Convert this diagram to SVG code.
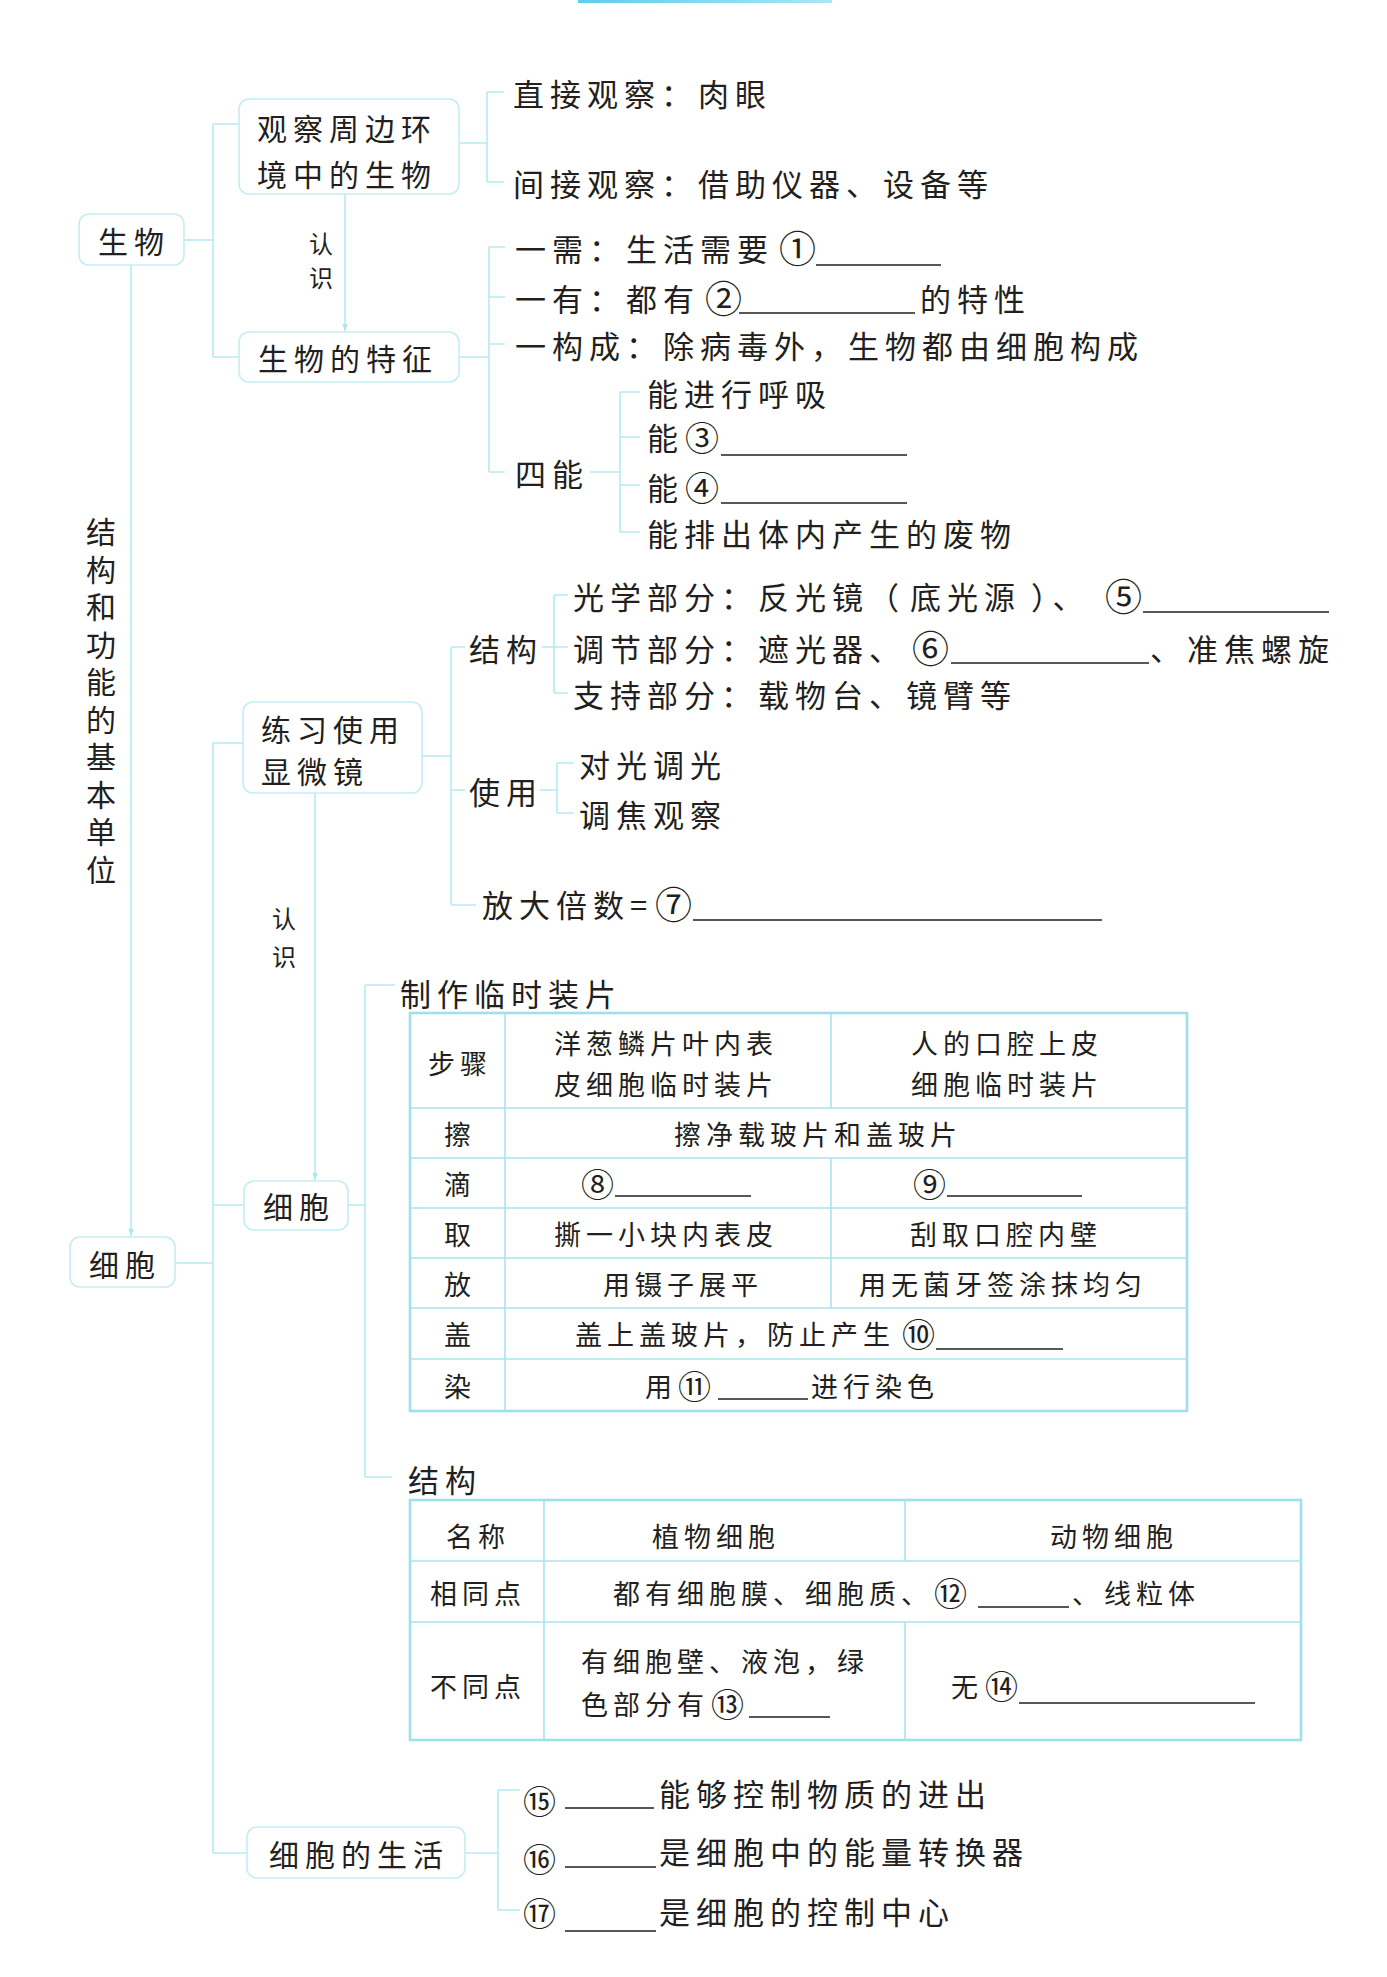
<svg xmlns="http://www.w3.org/2000/svg" width="1387" height="1977" viewBox="0 0 1387 1977">
<defs>
<linearGradient id="bar" x1="0" y1="0" x2="1" y2="0">
<stop offset="0" stop-color="#5fcdec"/><stop offset="1" stop-color="#a6e8f2"/>
</linearGradient>
<marker id="arr" viewBox="0 0 10 10" refX="10" refY="5" markerWidth="7" markerHeight="7" orient="auto" markerUnits="userSpaceOnUse">
<path d="M0,1 L10,5 L0,9 Z" fill="#a9e6ef"/>
</marker>
<style>
text{font-family:"Noto Sans CJK SC","Noto Sans CJK JP",sans-serif;fill:#231f20;dominant-baseline:central}
.m{font-size:31px;letter-spacing:6px}
.b{font-size:30px;letter-spacing:6px}
.s{font-size:27px;letter-spacing:5px}
.r{font-size:24px}
.c{text-anchor:middle}
.v{font-size:30px;letter-spacing:7.5px;writing-mode:vertical-rl}
.n{font-size:37px;letter-spacing:0}
.n2{font-size:34px;letter-spacing:0}
.ns{font-size:33px;letter-spacing:0}
.box{fill:#fff;stroke:#c4eef4;stroke-width:1.6}
.ln{fill:none;stroke:#b5eaf1;stroke-width:1.6}
.u{stroke:#231f20;stroke-width:1.6}
.tb{fill:none;stroke:#9fe0ea;stroke-width:2.6}
.tl{fill:none;stroke:#a9e4ed;stroke-width:1.6}
</style>
</defs>
<rect width="1387" height="1977" fill="#fff"/>
<rect x="578" y="0" width="254" height="3" fill="url(#bar)"/>

<g id="connectors">
<path class="ln" d="M184,240 H213 M213,124 V357 M213,124 H239 M213,357 H239"/>
<path class="ln" d="M459,143 H487 M487,92 V182 M487,92 H504 M487,182 H504"/>
<path class="ln" d="M345,194 V331" marker-end="url(#arr)"/>
<path class="ln" d="M459,357 H489 M489,247 V472 M489,247 H505 M489,297 H505 M489,344 H505 M489,472 H505"/>
<path class="ln" d="M590,472 H620 M620,392 V532 M620,392 H640 M620,437 H640 M620,485 H640 M620,532 H640"/>
<path class="ln" d="M131,265 V1236" marker-end="url(#arr)"/>
<path class="ln" d="M213,743 V1853 M213,743 H243 M175,1263 H213 M213,1205 H244 M213,1853 H247"/>
<path class="ln" d="M422,756 H451 M451,647 V905 M451,647 H465 M451,790 H465 M451,905 H476"/>
<path class="ln" d="M542,647 H554 M554,595 V693 M554,595 H568 M554,647 H568 M554,693 H568"/>
<path class="ln" d="M540,790 H557 M557,763 V813 M557,763 H574 M557,813 H574"/>
<path class="ln" d="M315,793 V1180" marker-end="url(#arr)"/>
<path class="ln" d="M348,1205 H365 M365,985 V1477 M365,985 H395 M365,1477 H392"/>
<path class="ln" d="M465,1853 H498 M498,1790 V1910 M498,1790 H520 M498,1910 H520"/>
</g>

<g id="n-shengwu">
<rect class="box" x="79" y="214" width="105" height="51" rx="10"/>
<text class="b c" x="134" y="240">生物</text>
</g>
<g id="n-guancha">
<rect class="box" x="239" y="99" width="220" height="95" rx="10"/>
<text class="b" x="257" y="127">观察周边环</text>
<text class="b" x="257" y="173">境中的生物</text>
</g>
<g id="n-tezheng">
<rect class="box" x="239" y="332" width="220" height="50" rx="10"/>
<text class="b" x="258" y="357">生物的特征</text>
</g>
<g id="l-renshi1">
<text class="r c" x="321" y="242">认</text>
<text class="r c" x="321" y="276">识</text>
</g>
<g id="n-guancha-items">
<text class="m" x="513" y="92">直接观察：肉眼</text>
<text class="m" x="513" y="182">间接观察：借助仪器、设备等</text>
</g>
<g id="n-tezheng-items">
<text class="m" x="515" y="247">一需：生活需要<tspan class="n" x="779">①</tspan></text>
<line class="u" x1="816" y1="265" x2="941" y2="265"/>
<text class="m" x="515" y="297">一有：都有<tspan class="n" x="705">②</tspan><tspan x="920">的特性</tspan></text>
<line class="u" x1="739" y1="313" x2="915" y2="313"/>
<text class="m" x="515" y="344">一构成：除病毒外，生物都由细胞构成</text>
<text class="m" x="515" y="472">四能</text>
<text class="m" x="647" y="392">能进行呼吸</text>
<text class="m" x="647" y="436">能<tspan class="n2" x="685">③</tspan></text>
<line class="u" x1="721" y1="455" x2="907" y2="455"/>
<text class="m" x="647" y="486">能<tspan class="n2" x="685">④</tspan></text>
<line class="u" x1="721" y1="503" x2="907" y2="503"/>
<text class="m" x="647" y="532">能排出体内产生的废物</text>
</g>

<g id="n-vertical">
<text class="v" x="101" y="517">结构和功能的基本单位</text>
</g>

<g id="n-xianweijing">
<rect class="box" x="243" y="702" width="179" height="91" rx="10"/>
<text class="b" x="261" y="728">练习使用</text>
<text class="b" x="261" y="770">显微镜</text>
</g>
<g id="n-xianweijing-items">
<text class="m" x="469" y="647">结构</text>
<text class="m" x="573" y="595">光学部分：反光镜<tspan x="868">（</tspan><tspan x="910">底光源</tspan><tspan x="1031">）、</tspan><tspan class="n" x="1105">⑤</tspan></text>
<line class="u" x1="1143" y1="612" x2="1329" y2="612"/>
<text class="m" x="573" y="647">调节部分：遮光器、<tspan class="n" x="912">⑥</tspan><tspan x="1150">、准焦螺旋</tspan></text>
<line class="u" x1="951" y1="663" x2="1149" y2="663"/>
<text class="m" x="573" y="693">支持部分：载物台、镜臂等</text>
<text class="m" x="469" y="790">使用</text>
<text class="m" x="579" y="763">对光调光</text>
<text class="m" x="579" y="813">调焦观察</text>
<text class="m" x="482" y="903">放大倍数=<tspan class="n" x="655">⑦</tspan></text>
<line class="u" x1="693" y1="920" x2="1102" y2="920"/>
</g>
<g id="l-renshi2">
<text class="r c" x="284" y="917">认</text>
<text class="r c" x="284" y="955">识</text>
</g>

<g id="n-xibao-left">
<rect class="box" x="70" y="1237" width="105" height="50" rx="10"/>
<text class="b c" x="125" y="1263">细胞</text>
</g>
<g id="n-xibao-right">
<rect class="box" x="244" y="1181" width="104" height="49" rx="10"/>
<text class="b c" x="299" y="1205">细胞</text>
</g>

<g id="n-zhuangpian">
<text class="m" x="400" y="992">制作临时装片</text>
<rect class="tb" x="410" y="1013" width="777" height="398"/>
<path class="tl" d="M505,1013 V1411 M831,1013 V1108 M831,1158 V1308 M410,1108 H1187 M410,1158 H1187 M410,1208 H1187 M410,1258 H1187 M410,1308 H1187 M410,1359 H1187"/>
<text class="s c" x="460" y="1062">步骤</text>
<text class="s c" x="666" y="1042">洋葱鳞片叶内表<tspan x="666" dy="41">皮细胞临时装片</tspan></text>
<text class="s c" x="1007" y="1042">人的口腔上皮<tspan x="1007" dy="41">细胞临时装片</tspan></text>
<text class="s c" x="460" y="1133">擦</text>
<text class="s c" x="818" y="1133">擦净载玻片和盖玻片</text>
<text class="s c" x="460" y="1183">滴</text>
<text class="ns" x="581" y="1183">⑧</text>
<line class="u" x1="615" y1="1196" x2="751" y2="1196"/>
<text class="ns" x="913" y="1183">⑨</text>
<line class="u" x1="947" y1="1196" x2="1082" y2="1196"/>
<text class="s c" x="460" y="1233">取</text>
<text class="s c" x="666" y="1233">撕一小块内表皮</text>
<text class="s c" x="1006" y="1233">刮取口腔内壁</text>
<text class="s c" x="460" y="1283">放</text>
<text class="s c" x="683" y="1283">用镊子展平</text>
<text class="s c" x="1003" y="1283">用无菌牙签涂抹均匀</text>
<text class="s c" x="460" y="1333">盖</text>
<text class="s" x="575" y="1333">盖上盖玻片，防止产生<tspan class="ns" x="902">⑩</tspan></text>
<line class="u" x1="936" y1="1349" x2="1063" y2="1349"/>
<text class="s c" x="460" y="1385">染</text>
<text class="s" x="645" y="1385">用<tspan class="ns" x="678">⑪</tspan><tspan x="811">进行染色</tspan></text>
<line class="u" x1="718" y1="1399" x2="808" y2="1399"/>
</g>

<g id="n-jiegou">
<text class="m" x="408" y="1478">结构</text>
<rect class="tb" x="410" y="1500" width="891" height="240"/>
<path class="tl" d="M544,1500 V1740 M905,1500 V1561 M905,1622 V1740 M410,1561 H1301 M410,1622 H1301"/>
<text class="s c" x="478" y="1535">名称</text>
<text class="s c" x="716" y="1535">植物细胞</text>
<text class="s c" x="1114" y="1535">动物细胞</text>
<text class="s c" x="478" y="1592">相同点</text>
<text class="s" x="613" y="1592">都有细胞膜、细胞质、<tspan class="ns" x="934">⑫</tspan><tspan x="1072">、线粒体</tspan></text>
<line class="u" x1="978" y1="1607" x2="1069" y2="1607"/>
<text class="s c" x="478" y="1685">不同点</text>
<text class="s" x="581" y="1660">有细胞壁、液泡，绿<tspan x="581" dy="43">色部分有</tspan><tspan class="ns" x="711">⑬</tspan></text>
<line class="u" x1="749" y1="1717" x2="830" y2="1717"/>
<text class="s" x="951" y="1685">无<tspan class="ns" x="985">⑭</tspan></text>
<line class="u" x1="1019" y1="1703" x2="1255" y2="1703"/>
</g>

<g id="n-shenghuo">
<rect class="box" x="247" y="1827" width="218" height="51" rx="10"/>
<text class="b c" x="359" y="1853">细胞的生活</text>
</g>
<g id="n-shenghuo-items">
<text class="ns" x="523" y="1800">⑮</text>
<line class="u" x1="565" y1="1808" x2="654" y2="1808"/>
<text class="m" x="659" y="1792">能够控制物质的进出</text>
<text class="ns" x="523" y="1858">⑯</text>
<line class="u" x1="565" y1="1867" x2="656" y2="1867"/>
<text class="m" x="659" y="1850">是细胞中的能量转换器</text>
<text class="ns" x="523" y="1912">⑰</text>
<line class="u" x1="565" y1="1931" x2="656" y2="1931"/>
<text class="m" x="659" y="1910">是细胞的控制中心</text>
</g>
</svg>
